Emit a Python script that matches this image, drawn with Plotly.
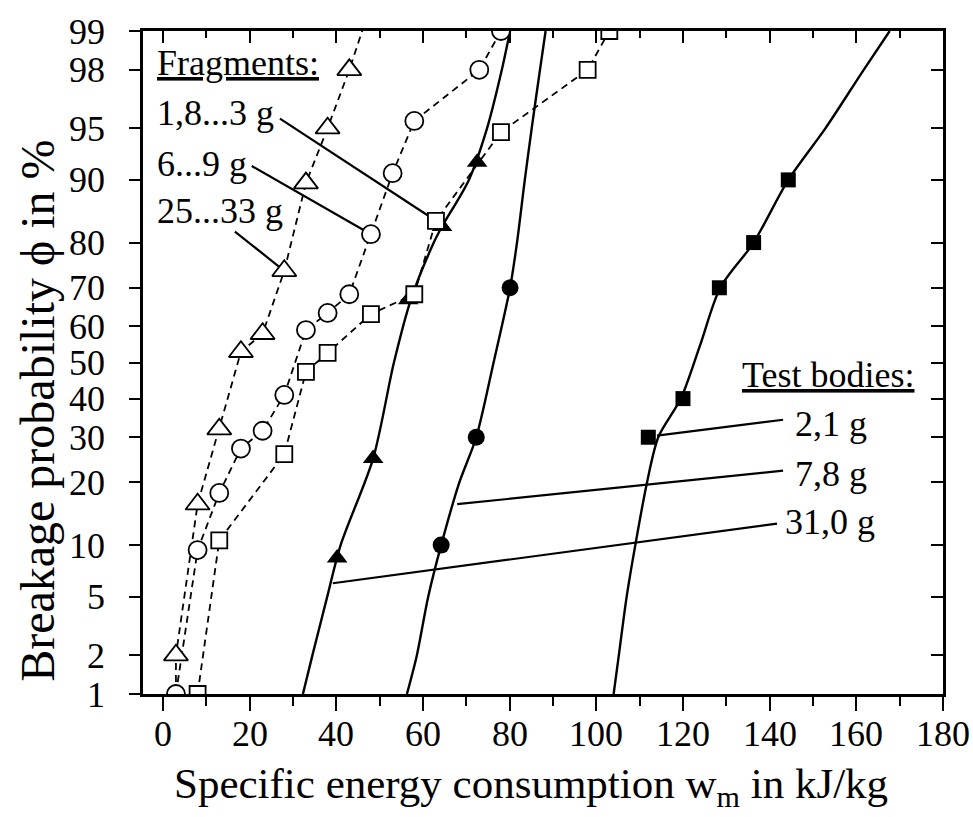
from statistics import NormalDist
import plotly.graph_objects as go

_nd = NormalDist()


def pz(p):
    """probability in % -> normal-probability-paper coordinate"""
    return _nd.inv_cdf(p / 100.0)


# ---------------- data ----------------
y_tick_labels = [1, 2, 5, 10, 20, 30, 40, 50, 60, 70, 80, 90, 95, 98, 99]
x_major_ticks = [0, 20, 40, 60, 80, 100, 120, 140, 160, 180]
x_minor_ticks = [10, 30, 50, 70, 90, 110, 130, 150, 170]

# Fragments (open symbols, dashed)
frag_1_8_3_x = [8, 13, 28, 33, 38, 48, 58, 63, 78, 98, 103]
frag_1_8_3_p = [1, 10.6, 26, 47.4, 52.7, 63.3, 68.4, 84, 94.7, 98, 99]

frag_6_9_x = [3, 8, 13, 18, 23, 28, 33, 38, 43, 48, 53, 58, 73, 78]
frag_6_9_p = [1, 9.4, 18, 27.3, 31.6, 41, 59, 63.6, 68.4, 81.6, 90.8, 95.5, 98, 99]

frag_25_33_x = [3, 8, 13, 18, 23, 28, 33, 38, 43]
frag_25_33_p = [2, 16, 32, 53, 58, 74, 89.6, 95, 98]
frag_25_33_line_x = [3, 3, 8, 13, 18, 23, 28, 33, 38, 43, 48]
frag_25_33_line_p = [1, 2, 16, 32, 53, 58, 74, 89.6, 95, 98, 99.4]

# Test bodies (filled symbols, measured points)
tb_2_1_x = [112, 120, 128.4, 136.3, 144.3]
tb_2_1_p = [30, 40, 70, 80, 90]
tb_7_8_x = [64.2, 72.3, 80.1]
tb_7_8_p = [10, 30, 70]
tb_31_0_x = [40.2, 48.5, 56.6, 64.4, 72.5]
tb_31_0_p = [8.5, 25, 67, 83, 92]

# Test bodies: fitted distribution curves
fit_2_1_x = [104, 105.2, 107, 109, 111.7, 114.3, 119.5, 124, 128.6, 136.3, 144.3, 152.9, 161.7, 167.7]
fit_2_1_p = [1, 2, 5, 10, 20, 30, 40, 55, 70, 80, 90, 95, 98, 99]
fit_7_8_x = [56.3, 58.6, 61.2, 64.2, 68.4, 72.3, 76.3, 80.1, 81.7, 83.5, 85.1, 87.0, 88.3]
fit_7_8_p = [1, 2, 5, 10, 20, 30, 50, 70, 80, 90, 95, 98, 99]
fit_31_0_x = [32.3, 34.5, 37.9, 41.0, 48.5, 53.3, 57.2, 62.5, 64.4, 70.6, 74.8, 78.2, 80.1]
fit_31_0_p = [1, 2, 5, 10, 25, 50, 67, 80, 83, 90, 95, 98, 99]

# Labels: text, text anchor (x, p), pointer start (x, p), pointer end (x, p)
frag_labels = ["1,8...3 g", "6...9 g", "25...33 g"]
frag_label_x = [-1.8, -1.8, -1.8]
frag_label_p = [96.0, 91.8, 85.6]
frag_ptr_x0 = [27.0, 20.5, 16.6]
frag_ptr_p0 = [95.65, 91.6, 82.1]
frag_ptr_x1 = [63, 48, 28]
frag_ptr_p1 = [84, 81.6, 74]

tb_labels = ["2,1 g", "7,8 g", "31,0 g"]
tb_label_x = [145.4, 145.4, 143.1]
tb_label_p = [33.4, 21.6, 13.1]
tb_ptr_x0 = [143.1, 143.1, 141.7]
tb_ptr_p0 = [34.4, 22.4, 12.9]
tb_ptr_x1 = [114.0, 67.9, 39.2]
tb_ptr_p1 = [30.4, 16.0, 6.07]

frag_head = "Fragments:"
frag_head_x, frag_head_p = -1.8, 98.23
tb_head = "Test bodies:"
tb_head_x, tb_head_p = 133.2, 46.5

x_title = "Specific energy consumption w<sub>m</sub> in kJ/kg"
y_title = "Breakage probability \u03d5 in %"

# ---------------- figure ----------------
FONT = "Liberation Serif, Times New Roman, serif"
BLACK = "black"


def zs(ps):
    return [pz(p) for p in ps]


fig = go.Figure()

# pointer lines
for i in range(3):
    fig.add_trace(go.Scatter(x=[frag_ptr_x0[i], frag_ptr_x1[i]], y=zs([frag_ptr_p0[i], frag_ptr_p1[i]]),
                             mode="lines", line=dict(color=BLACK, width=2.2), hoverinfo="skip"))
    fig.add_trace(go.Scatter(x=[tb_ptr_x0[i], tb_ptr_x1[i]], y=zs([tb_ptr_p0[i], tb_ptr_p1[i]]),
                             mode="lines", line=dict(color=BLACK, width=2.2), hoverinfo="skip"))

# fitted curves
for fx, fp in [(fit_2_1_x, fit_2_1_p), (fit_7_8_x, fit_7_8_p), (fit_31_0_x, fit_31_0_p)]:
    fig.add_trace(go.Scatter(x=fx, y=zs(fp), mode="lines",
                             line=dict(color=BLACK, width=2.4, shape="spline", smoothing=0.8)))

# filled test body markers
fig.add_trace(go.Scatter(x=tb_2_1_x, y=zs(tb_2_1_p), mode="markers",
                         marker=dict(symbol="square", size=15, color=BLACK)))
fig.add_trace(go.Scatter(x=tb_7_8_x, y=zs(tb_7_8_p), mode="markers",
                         marker=dict(symbol="circle", size=17, color=BLACK)))
fig.add_trace(go.Scatter(x=tb_31_0_x, y=zs(tb_31_0_p), mode="markers",
                         marker=dict(symbol="triangle-up", size=18, color=BLACK)))

# fragment dashed lines
DASH = "7px,5px"
fig.add_trace(go.Scatter(x=frag_25_33_line_x, y=zs(frag_25_33_line_p), mode="lines",
                         line=dict(color=BLACK, width=1.8, dash=DASH)))
fig.add_trace(go.Scatter(x=frag_6_9_x, y=zs(frag_6_9_p), mode="lines",
                         line=dict(color=BLACK, width=1.8, dash=DASH)))
fig.add_trace(go.Scatter(x=frag_1_8_3_x, y=zs(frag_1_8_3_p), mode="lines",
                         line=dict(color=BLACK, width=1.8, dash=DASH)))

# fragment open markers
fig.add_trace(go.Scatter(x=frag_1_8_3_x, y=zs(frag_1_8_3_p), mode="markers",
                         marker=dict(symbol="square", size=16, color="white",
                                     line=dict(color=BLACK, width=1.8))))
fig.add_trace(go.Scatter(x=frag_6_9_x, y=zs(frag_6_9_p), mode="markers",
                         marker=dict(symbol="circle", size=18, color="white",
                                     line=dict(color=BLACK, width=1.8))))
fig.add_trace(go.Scatter(x=frag_25_33_x, y=zs(frag_25_33_p), mode="markers",
                         marker=dict(symbol="triangle-up", size=21, color="white",
                                     line=dict(color=BLACK, width=1.8))))

# dummy trace for the mirrored (top/right) axes
fig.add_trace(go.Scatter(x=[0], y=[0], xaxis="x2", yaxis="y2", mode="markers",
                         marker=dict(opacity=0), hoverinfo="skip"))

yr = [pz(1), pz(99)]
xr = [-4.6, 180]
ytv = zs(y_tick_labels)
ytt = [str(v) for v in y_tick_labels]

tickfont = dict(family=FONT, size=36, color=BLACK)

fig.update_layout(
    width=973, height=817,
    margin=dict(l=143, r=30, t=29, b=123),
    paper_bgcolor="white", plot_bgcolor="white",
    showlegend=False,
    font=dict(family=FONT, color=BLACK),
    xaxis=dict(range=xr, showgrid=False, zeroline=False, showline=True, linecolor=BLACK,
               linewidth=2.5, ticks="outside", ticklen=14, tickwidth=2, tickcolor=BLACK,
               tickmode="array", tickvals=x_major_ticks, showticklabels=False,
               minor=dict(tickmode="array", tickvals=x_minor_ticks, ticks="outside",
                          ticklen=9, tickwidth=2, tickcolor=BLACK)),
    xaxis2=dict(range=xr, overlaying="x", side="top", showgrid=False, zeroline=False,
                showline=True, linecolor=BLACK, linewidth=2.5, ticks="inside", ticklen=12,
                tickwidth=2, tickcolor=BLACK, tickmode="array", tickvals=x_major_ticks,
                showticklabels=False,
                minor=dict(tickmode="array", tickvals=x_minor_ticks, ticks="inside",
                           ticklen=7, tickwidth=2, tickcolor=BLACK)),
    yaxis=dict(range=yr, showgrid=False, zeroline=False, showline=True, linecolor=BLACK,
               linewidth=2.5, ticks="outside", ticklen=11, tickwidth=2, tickcolor=BLACK,
               tickmode="array", tickvals=ytv, ticktext=ytt, tickfont=tickfont,
               ticklabelstandoff=17),
    yaxis2=dict(range=yr, overlaying="y", side="right", showgrid=False, zeroline=False,
                showline=True, linecolor=BLACK, linewidth=2.5, ticks="inside", ticklen=12,
                tickwidth=2, tickcolor=BLACK, tickmode="array", tickvals=ytv,
                showticklabels=False),
)

annots = []
# x tick labels (placed under the ticks via the x scale)
for v in x_major_ticks:
    annots.append(dict(x=v, y=(694 - 734) / 665, xref="x", yref="paper", text=str(v),
                       showarrow=False, xanchor="center", yanchor="middle", font=tickfont))

LBL = dict(family=FONT, size=36, color=BLACK)
annots.append(dict(x=frag_head_x, y=pz(frag_head_p), xref="x", yref="y", text="<u>" + frag_head + "</u>",
                   showarrow=False, xanchor="left", yanchor="middle", font=LBL))
annots.append(dict(x=tb_head_x, y=pz(tb_head_p), xref="x", yref="y", text="<u>" + tb_head + "</u>",
                   showarrow=False, xanchor="left", yanchor="middle", font=LBL))
for t, lx, lp in zip(frag_labels, frag_label_x, frag_label_p):
    annots.append(dict(x=lx, y=pz(lp), xref="x", yref="y", text=t, showarrow=False,
                       xanchor="left", yanchor="middle", font=LBL))
for t, lx, lp in zip(tb_labels, tb_label_x, tb_label_p):
    annots.append(dict(x=lx, y=pz(lp), xref="x", yref="y", text=t, showarrow=False,
                       xanchor="left", yanchor="middle", font=LBL))

annots.append(dict(x=(531 - 143) / 800, y=(694 - 787) / 665, xref="paper", yref="paper",
                   text=x_title, showarrow=False, xanchor="center", yanchor="middle",
                   font=dict(family=FONT, size=43, color=BLACK)))
annots.append(dict(x=(38 - 143) / 800, y=(694 - 410) / 665, xref="paper", yref="paper",
                   text=y_title, showarrow=False, xanchor="center", yanchor="middle",
                   textangle=-90, font=dict(family=FONT, size=48, color=BLACK)))
fig.update_layout(annotations=annots)

fig.write_html("out.html")
